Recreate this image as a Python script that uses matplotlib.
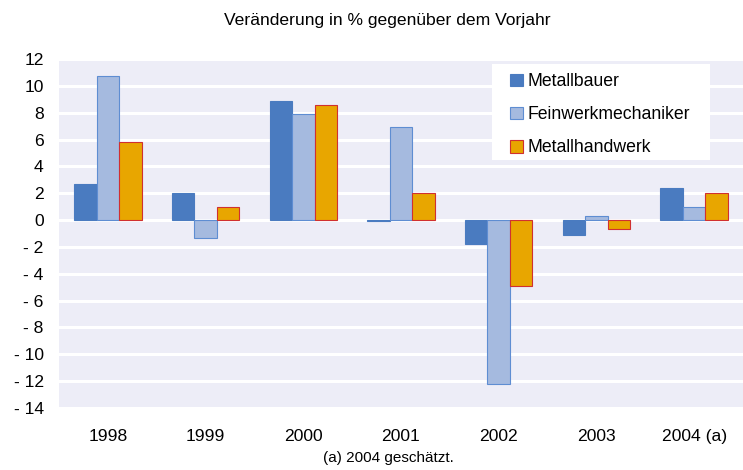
import matplotlib
matplotlib.use("Agg")
import matplotlib.pyplot as plt
from matplotlib.patches import Rectangle, Patch
import numpy as np

plt.rcParams['font.family'] = ['Liberation Sans', 'DejaVu Sans']

categories = ["1998", "1999", "2000", "2001", "2002", "2003", "2004 (a)"]
metallbauer = [2.7, 2.0, 8.9, -0.1, -1.8, -1.1, 2.4]
feinwerk = [10.7, -1.3, 7.9, 6.9, -12.2, 0.3, 1.0]
metallhandwerk = [5.8, 1.0, 8.6, 2.0, -4.9, -0.7, 2.0]
series_names = ["Metallbauer", "Feinwerkmechaniker", "Metallhandwerk"]
yticks = list(range(-14, 13, 2))
ytick_labels = [("- %d" % -v) if v < 0 else str(v) for v in yticks]

fig = plt.figure(figsize=(7.43, 4.70), dpi=100)
ax = fig.add_axes([59/743, 1-408/470, 1-59/743, 349/470])
ax.set_facecolor("#EDEDF7")

x = np.arange(len(categories))
w = 0.23
c1, e1 = "#4A7BC0", "#4A7BC0"
c2, e2 = "#A5BADF", "#5E8DD2"
c3, e3 = "#E8A600", "#D03030"
ax.bar(x - w, metallbauer, w, color=c1, edgecolor=e1, linewidth=0.8, zorder=3)
ax.bar(x, feinwerk, w, color=c2, edgecolor=e2, linewidth=0.8, zorder=3)
ax.bar(x + w, metallhandwerk, w, color=c3, edgecolor=e3, linewidth=0.8, zorder=3)

ax.set_xlim(-0.5, len(categories) - 0.5)
ax.set_ylim(-14, 12)
ax.set_yticks(yticks)
ax.set_yticklabels(ytick_labels, fontsize=12.6)
ax.set_xticks(x)
ax.set_xticklabels(categories, fontsize=12.6)
ax.tick_params(axis='y', length=0, pad=11)
ax.tick_params(axis='x', length=0, pad=15)
for s in ax.spines.values():
    s.set_visible(False)
ax.yaxis.grid(True, color="white", linewidth=2.2, zorder=1)
ax.set_axisbelow(True)

# legend box
ax.add_patch(Rectangle(((492-59)/684, (408-160)/349), (710-492)/684, (160-64)/349,
                       transform=ax.transAxes, facecolor="white", edgecolor="none", zorder=4))
handles = [Patch(facecolor=c1, edgecolor=e1, linewidth=0.8),
           Patch(facecolor=c2, edgecolor=e2, linewidth=0.8),
           Patch(facecolor=c3, edgecolor=e3, linewidth=0.8)]
leg = ax.legend(handles, series_names, loc='upper left',
                bbox_to_anchor=((510-59)/684, (408-73)/349), frameon=False,
                fontsize=12.7, handlelength=0.72, handleheight=0.72, handletextpad=0.3,
                labelspacing=0.92, borderpad=0, borderaxespad=0)
leg.set_zorder(5)

fig.text(387/743, 1-21/470, "Veränderung in % gegenüber dem Vorjahr", ha='center', va='center', fontsize=12.6)
fig.text(388/743, 1-458/470, "(a) 2004 geschätzt.", ha='center', va='center', fontsize=11)

fig.savefig("out.png", dpi=100)
